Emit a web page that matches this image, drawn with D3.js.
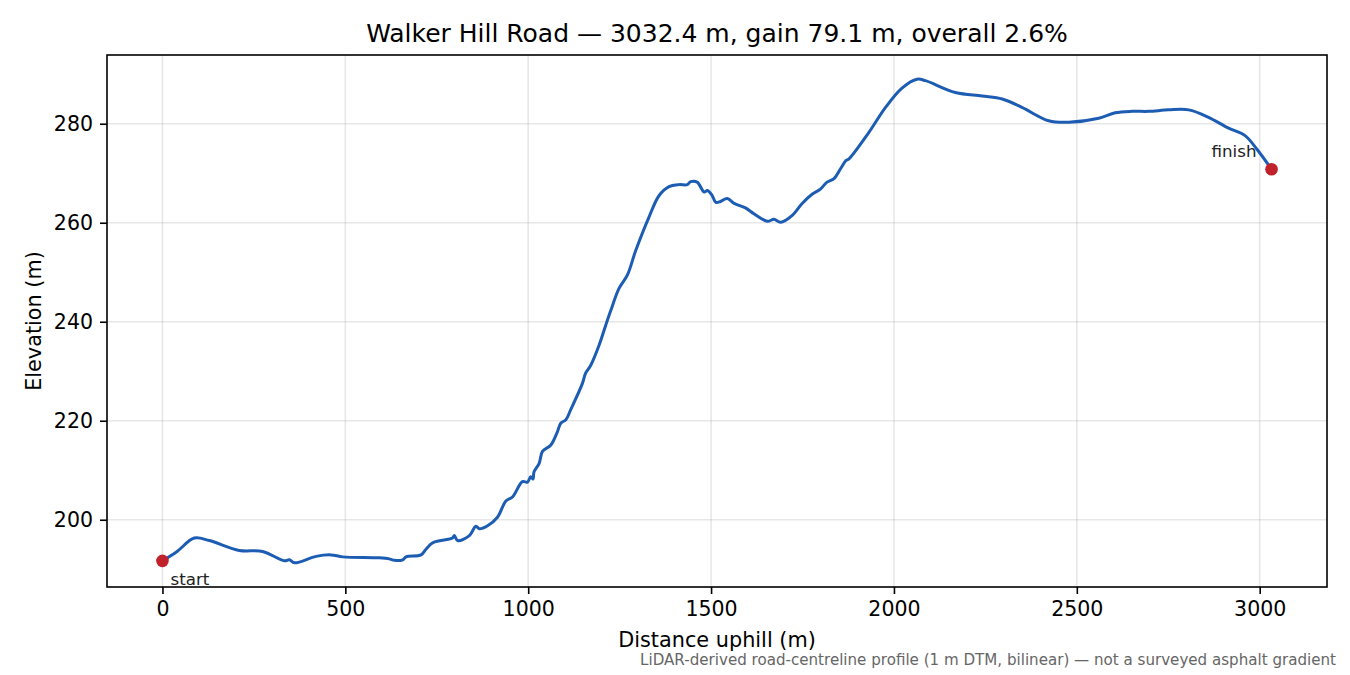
<!DOCTYPE html>
<html>
<head>
<meta charset="utf-8">
<script src="https://cdn.jsdelivr.net/npm/d3@7"></script>
<style>
  body { margin: 0; background: #fff; }
  text { font-family: "DejaVu Sans", sans-serif; }
</style>
</head>
<body>
<div id="chart"></div>
<script>
// profile samples (distance m, elevation m)
const distance = [0, 40, 87, 128, 210, 274, 333, 347, 361, 420, 461, 493, 593, 620, 634, 657, 666, 707, 720, 738, 761, 793, 798, 807, 839, 857, 866, 889, 916, 939, 957, 984, 998, 1007, 1013, 1016, 1030, 1039, 1062, 1080, 1089, 1103, 1116, 1148, 1157, 1171, 1194, 1212, 1226, 1248, 1271, 1294, 1330, 1358, 1385, 1412, 1435, 1444, 1462, 1481, 1490, 1503, 1513, 1526, 1544, 1563, 1594, 1617, 1654, 1672, 1690, 1722, 1749, 1777, 1799, 1817, 1836, 1854, 1868, 1877, 1931, 1977, 2022, 2063, 2086, 2168, 2241, 2296, 2350, 2423, 2478, 2560, 2605, 2651, 2696, 2751, 2806, 2860, 2915, 2960, 2992, 3032.4];
const elevation = [191.7, 193.6, 196.3, 195.8, 193.8, 193.6, 191.7, 191.9, 191.3, 192.6, 192.9, 192.5, 192.3, 192.1, 191.8, 191.9, 192.5, 192.9, 194.0, 195.3, 195.8, 196.3, 196.8, 195.8, 196.8, 198.7, 198.2, 198.8, 200.5, 203.8, 204.6, 207.7, 207.6, 208.7, 208.2, 209.7, 211.4, 213.8, 215.1, 217.8, 219.5, 220.2, 222.2, 227.5, 229.6, 231.2, 235.3, 239.3, 242.3, 246.7, 249.4, 254.4, 261.1, 265.5, 267.3, 267.7, 267.7, 268.3, 268.2, 266.2, 266.5, 265.5, 264.1, 264.3, 264.9, 263.9, 263.0, 261.8, 260.3, 260.7, 260.1, 261.5, 263.9, 265.8, 266.8, 268.2, 268.9, 270.9, 272.5, 272.9, 278.2, 283.3, 287.2, 289.0, 288.7, 286.3, 285.6, 285.0, 283.3, 280.6, 280.3, 281.1, 282.2, 282.5, 282.5, 282.8, 282.8, 281.3, 279.1, 277.6, 274.9, 270.8];
const xTicks = [0, 500, 1000, 1500, 2000, 2500, 3000];
const yTicks = [200, 220, 240, 260, 280];
const endLabels = ["start", "finish"];

const width = 1350, height = 675;
const margin = { top: 55, right: 23, bottom: 88, left: 107 };
const w = width - margin.left - margin.right;
const h = height - margin.top - margin.bottom;

const data = distance.map((d, i) => ({ d: d, e: elevation[i] }));

// matplotlib-style 5% padding
const xExt = d3.extent(distance), yExt = d3.extent(elevation);
const xPad = (xExt[1] - xExt[0]) * 0.05, yPad = (yExt[1] - yExt[0]) * 0.05;
const x = d3.scaleLinear().domain([xExt[0] - xPad, xExt[1] + xPad]).range([0, w]);
const y = d3.scaleLinear().domain([yExt[0] - yPad, yExt[1] + yPad]).range([h, 0]);

const svg = d3.select("#chart").append("svg")
  .attr("width", width).attr("height", height);
const g = svg.append("g").attr("transform", `translate(${margin.left},${margin.top})`);

// grid
g.append("g").selectAll("line").data(xTicks).join("line")
  .attr("x1", d => x(d)).attr("x2", d => x(d)).attr("y1", 0).attr("y2", h)
  .attr("stroke", "#b0b0b0").attr("stroke-opacity", 0.3).attr("stroke-width", 1.6);
g.append("g").selectAll("line").data(yTicks).join("line")
  .attr("y1", d => y(d)).attr("y2", d => y(d)).attr("x1", 0).attr("x2", w)
  .attr("stroke", "#b0b0b0").attr("stroke-opacity", 0.3).attr("stroke-width", 1.6);

// axes
const xAxis = g.append("g").attr("transform", `translate(0,${h})`)
  .call(d3.axisBottom(x).tickValues(xTicks).tickSize(7).tickPadding(7).tickFormat(d3.format("d")));
const yAxis = g.append("g")
  .call(d3.axisLeft(y).tickValues(yTicks).tickSize(7).tickPadding(7).tickFormat(d3.format("d")));
[xAxis, yAxis].forEach(a => {
  a.select(".domain").remove();
  a.selectAll("text").attr("font-size", 20.5).attr("fill", "#000").style("font-family", "DejaVu Sans");
  a.selectAll("line").attr("stroke", "#000").attr("stroke-width", 1.6);
});

// frame
g.append("rect").attr("width", w).attr("height", h)
  .attr("fill", "none").attr("stroke", "#000").attr("stroke-width", 1.6);

// profile line
const line = d3.line().x(d => x(d.d)).y(d => y(d.e)).curve(d3.curveCatmullRom.alpha(0.5));
g.append("path").datum(data)
  .attr("d", line).attr("fill", "none")
  .attr("stroke", "#1c5db3").attr("stroke-width", 3)
  .attr("stroke-linejoin", "round").attr("stroke-linecap", "round");

// start / finish markers
const ends = [data[0], data[data.length - 1]];
g.selectAll(".end").data(ends).join("circle")
  .attr("cx", d => x(d.d)).attr("cy", d => y(d.e)).attr("r", 6.3)
  .attr("fill", "#c0212b");
g.append("text").attr("x", x(ends[0].d) + 8).attr("y", y(ends[0].e) + 24)
  .attr("font-size", 16.7).attr("fill", "#222").text(endLabels[0]);
g.append("text").attr("x", x(ends[1].d) - 15).attr("y", y(ends[1].e) - 12)
  .attr("text-anchor", "end").attr("font-size", 16.7).attr("fill", "#222").text(endLabels[1]);

// titles
svg.append("text").attr("x", margin.left + w / 2).attr("y", 42)
  .attr("text-anchor", "middle").attr("font-size", 25)
  .text("Walker Hill Road — 3032.4 m, gain 79.1 m, overall 2.6%");
svg.append("text").attr("x", margin.left + w / 2).attr("y", 647)
  .attr("text-anchor", "middle").attr("font-size", 20.8).text("Distance uphill (m)");
svg.append("text").attr("transform", `translate(41,${margin.top + h / 2}) rotate(-90)`)
  .attr("text-anchor", "middle").attr("font-size", 20.8).text("Elevation (m)");
svg.append("text").attr("x", 1336).attr("y", 665)
  .attr("text-anchor", "end").attr("font-size", 15.1).attr("fill", "#666")
  .text("LiDAR-derived road-centreline profile (1 m DTM, bilinear) — not a surveyed asphalt gradient");
</script>
</body>
</html>
